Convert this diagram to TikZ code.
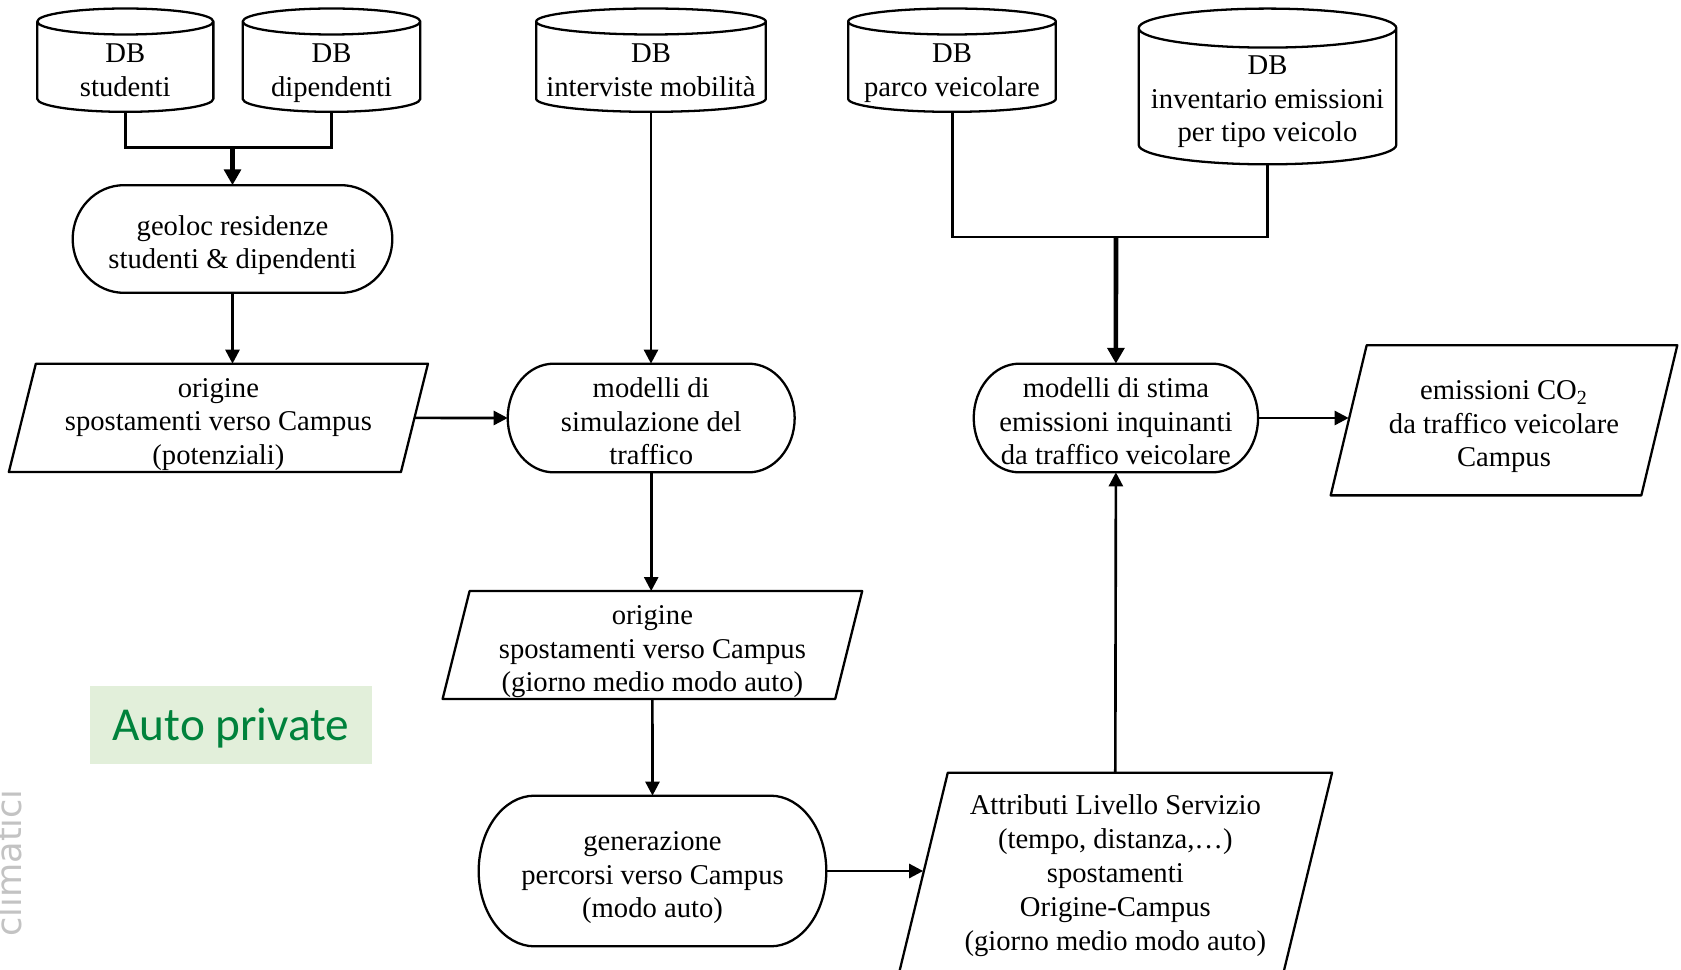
\documentclass[tikz,border=0pt]{standalone}
\usepackage{fontspec}
\setmainfont{Liberation Serif}
\newfontfamily\calibfont{Carlito}
\newfontfamily\grayfont{DejaVu Sans}
\usetikzlibrary{arrows.meta,calc}
\definecolor{autogreen}{RGB}{0,130,60}
\definecolor{autofill}{RGB}{226,239,218}
\definecolor{climgray}{RGB}{195,195,195}

% struts that fix the vertical placement of the text block
\newcommand\tst{\rule{0pt}{18.8pt}}
\newcommand\tsa{\rule{0pt}{13.8pt}}
\newcommand\bst{\rule[-4pt]{0pt}{4pt}}

% cylinder outline: node name, top y (px), cap radius (px)
\newcommand\dbshape[3]{%
  \draw[shp] let \p1=(#1.south west), \p2=(#1.south east),
     \n1={(\x2-\x1)/2}, \n2={#3*0.569055pt}, \n3={-#2*0.569055pt-\n2}
  in (\x1,\n3) -- (\x1,\y1+\n2)
     arc[start angle=180,end angle=360,x radius=\n1,y radius=\n2]
     -- (\x2,\n3)
     arc[start angle=0,end angle=360,x radius=\n1,y radius=\n2];}
% terminator outline
\newcommand\termshape[1]{%
  \draw[shp] let \p1=(#1.south west), \p2=(#1.north east),
    \n1={0.1607*(\x2-\x1)}, \n2={(\y2-\y1)/2}
  in (\x1+\n1,\y2) -- (\x2-\n1,\y2)
     arc[start angle=90,end angle=-90,x radius=\n1,y radius=\n2]
     -- (\x1+\n1,\y1)
     arc[start angle=270,end angle=90,x radius=\n1,y radius=\n2] -- cycle;}
% parallelogram outline: node name, half slant (px)
\newcommand\parashape[2]{%
  \draw[shp] ([xshift=-#2*0.02cm]#1.south west) -- ([xshift=#2*0.02cm]#1.north west)
    -- ([xshift=#2*0.02cm]#1.north east) -- ([xshift=-#2*0.02cm]#1.south east) -- cycle;}

\tikzset{
  txt/.style={font=\fontsize{16.3pt}{19.1pt}\selectfont, align=center, inner sep=0pt, draw=none},
  shp/.style={line width=1.3pt, line join=round},
  conn/.style={line width=1.5pt, -{Triangle[length=8pt,width=8pt]}},
  leg/.style={line width=1.7pt},
  bigconn/.style={line width=2.6pt, -{Triangle[length=9pt,width=9.5pt]}},
}

\begin{document}
\begin{tikzpicture}[x=0.02cm,y=0.02cm]
\useasboundingbox (0,0) rectangle (1681,-970);
\clip (0,0) rectangle (1681,-970);

% databases
\node[txt, minimum width=3.51cm, minimum height=1.652cm] (stud) at (125.3,-70.2) {DB\\studenti};
\node[txt, minimum width=3.54cm, minimum height=1.54cm] (dip) at (331.5,-73) {DB\\dipendenti};
\node[txt, minimum width=4.58cm, minimum height=1.652cm] (intv) at (651,-70.2) {DB\\interviste mobilità};
\node[txt, minimum width=4.14cm, minimum height=1.54cm] (parco) at (952,-73) {DB\\parco veicolare};
\node[txt, minimum width=5.14cm, minimum height=2.48cm] (inv) at (1267.5,-102) {DB\\inventario emissioni\\per tipo veicolo};
\dbshape{stud}{8.5}{13}
\dbshape{dip}{8.5}{13}
\dbshape{intv}{8.5}{13}
\dbshape{parco}{8.5}{13}
\dbshape{inv}{8.6}{19.5}

% processes
\node[txt, minimum width=6.38cm, minimum height=2.14cm] (geoloc) at (232.5,-239) {\tst geoloc residenze\\studenti \& dipendenti\bst};
\node[txt, minimum width=5.726cm, minimum height=2.16cm] (sim) at (651.2,-418) {\tst modelli di\\simulazione del\\traffico\bst};
\node[txt, minimum width=6.94cm, minimum height=3.0cm] (gen) at (652.5,-871) {\tst generazione\\percorsi verso Campus\\(modo auto)\bst};
\node[txt, minimum width=5.674cm, minimum height=2.16cm] (stima) at (1115.9,-418) {\tst modelli di stima\\emissioni inquinanti\\da traffico veicolare\bst};
\termshape{geoloc}
\termshape{sim}
\termshape{gen}
\termshape{stima}

% data
\node[txt, minimum width=7.83cm, minimum height=2.154cm] (par1) at (218.4,-417.9) {\tst origine\\spostamenti verso Campus\\(potenziali)\bst};
\node[txt, minimum width=7.84cm, minimum height=2.126cm] (par2) at (652.4,-645) {\tst origine\\spostamenti verso Campus\\(giorno medio modo auto)\bst};
\node[txt, minimum width=7.674cm, minimum height=4.04cm, font=\fontsize{16.3pt}{19.4pt}\selectfont] (attr) at (1115.3,-874) {\tsa Attributi Livello Servizio\\(tempo, distanza,…)\\spostamenti\\Origine-Campus\\(giorno medio modo auto)\bst};
\node[txt, minimum width=6.2cm, minimum height=2.99cm] (co2) at (1504,-420.3) {\tst emissioni CO\textsubscript{2}\\da traffico veicolare\\Campus\bst};
\parashape{par1}{13.5}
\parashape{par2}{13.5}
\parashape{attr}{24.65}
\parashape{co2}{18}

% label
\node[fill=autofill, minimum width=5.64cm, minimum height=1.56cm, inner sep=0pt,
      font=\calibfont\fontsize{26.9pt}{30pt}\selectfont, text=autogreen,
      text height=17.3pt, text depth=0pt] (auto) at (231,-725) {Auto private};
\node[rotate=90, anchor=base, inner sep=0pt, text=climgray,
      font=\grayfont\fontsize{20pt}{24pt}\selectfont] (clim) at (21,-863) {climatici};

% connectors
\coordinate (j1) at (232.5,-147.5);
\coordinate (j2) at (1116,-237);
\draw[leg] (stud.south) |- (j1) -| (dip.south);
\draw[bigconn] (j1) -- (geoloc.north);
\draw[leg] (parco.south) |- (j2) -| (inv.south);
\draw[bigconn] (j2) -- (stima.north);
\draw[conn] (geoloc.south) -- (geoloc.south |- par1.north);
\draw[conn] (par1.east) -- (sim.west);
\draw[conn] (intv.south) -- (intv.south |- sim.north);
\draw[conn] (sim.south) -- (sim.south |- par2.north);
\draw[conn] (par2.south) -- (gen.north);
\draw[conn] (gen.east) -- (gen.east -| attr.west);
\draw[conn] (attr.north) -- (stima.south);
\draw[conn] (stima.east) -- (stima.east -| co2.west);
\end{tikzpicture}
\end{document}
